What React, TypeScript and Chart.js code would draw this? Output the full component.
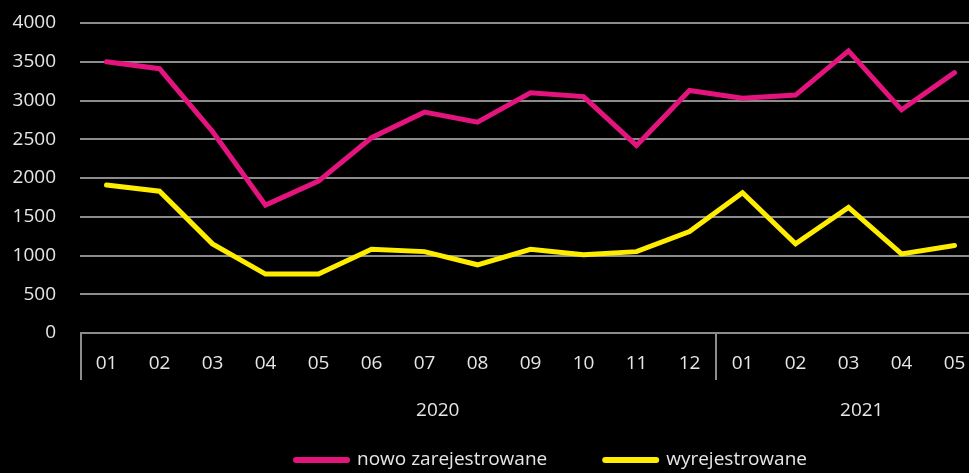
import React, { useEffect, useRef } from "react";
import { Chart, registerables } from "chart.js";

Chart.register(...registerables);

const months = ["01", "02", "03", "04", "05", "06", "07", "08", "09", "10", "11", "12", "01", "02", "03", "04", "05"];
const years = ["2020", "2021"];
const seriesNames = ["nowo zarejestrowane", "wyrejestrowane"];
const nowoZarejestrowane = [3500, 3410, 2600, 1650, 1960, 2520, 2850, 2720, 3100, 3050, 2420, 3130, 3030, 3070, 3640, 2880, 3360];
const wyrejestrowane = [1910, 1830, 1150, 760, 760, 1080, 1050, 880, 1080, 1010, 1050, 1310, 1810, 1150, 1620, 1020, 1130];
const yTicks = [0, 500, 1000, 1500, 2000, 2500, 3000, 3500, 4000];

const PINK = "#e4147e";
const YELLOW = "#ffed00";
const TEXT = "#e6e6e6";
const GRID = "#8c8c8c";
const FONT = "'Open Sans', 'Noto Sans', sans-serif";
const FS = 19;

const extrasPlugin = {
  id: "extras",
  afterDraw(chart: any) {
    const ctx = chart.ctx;
    const x = chart.scales.x;
    const area = chart.chartArea;
    ctx.save();
    ctx.strokeStyle = GRID;
    ctx.lineWidth = 2;
    const seps = [x.getPixelForValue(-0.5) + 1, x.getPixelForValue(11.5)];
    seps.forEach((px: number) => {
      ctx.beginPath();
      ctx.moveTo(px, area.bottom - 1);
      ctx.lineTo(px, area.bottom + 47);
      ctx.stroke();
    });
    ctx.fillStyle = TEXT;
    ctx.font = `${FS}px ${FONT}`;
    ctx.textAlign = "center";
    ctx.textBaseline = "middle";
    const yearIdx = [6.25, 14.25];
    years.forEach((y, i) => {
      ctx.fillText(y, x.getPixelForValue(yearIdx[i]), area.bottom + 78);
    });
    const colors = [PINK, YELLOW];
    const sw = 57, gapText = 7, gapItem = 55;
    const widths = seriesNames.map((n) => ctx.measureText(n).width);
    const total = widths.reduce((a, b) => a + b, 0) + 2 * (sw + gapText) + gapItem;
    let lx = 550 - total / 2;
    const ly = area.bottom + 127;
    ctx.textAlign = "left";
    seriesNames.forEach((n, i) => {
      ctx.strokeStyle = colors[i];
      ctx.lineWidth = 6;
      ctx.lineCap = "round";
      ctx.beginPath();
      ctx.moveTo(lx + 3, ly);
      ctx.lineTo(lx + sw - 3, ly);
      ctx.stroke();
      ctx.fillStyle = TEXT;
      ctx.fillText(n, lx + sw + gapText, ly);
      lx += sw + gapText + widths[i] + gapItem;
    });
    ctx.restore();
  },
};

export default function App() {
  const ref = useRef<HTMLCanvasElement>(null);
  useEffect(() => {
    if (!ref.current) return;
    const ds = (label: string, data: number[], color: string) => ({
      label,
      data,
      borderColor: color,
      backgroundColor: color,
      borderWidth: 5,
      pointRadius: 0,
      borderCapStyle: "round",
      borderJoinStyle: "miter",
      tension: 0,
    });
    const chart = new Chart(ref.current, {
      type: "line",
      data: {
        labels: months,
        datasets: [ds(seriesNames[0], nowoZarejestrowane, PINK), ds(seriesNames[1], wyrejestrowane, YELLOW)],
      },
      options: {
        responsive: false,
        animation: false,
        layout: { padding: { top: 23, left: 0, right: 0, bottom: 0 } },
        plugins: { legend: { display: false }, tooltip: { enabled: false } },
        scales: {
          x: {
            offset: true,
            grid: { display: false },
            border: { display: false },
            ticks: { color: TEXT, font: { family: FONT, size: FS }, padding: 11, maxRotation: 0, autoSkip: false },
            afterFit: (s: any) => {
              s.height = 140;
            },
          },
          y: {
            min: 0,
            max: 4000,
            afterBuildTicks: (s: any) => {
              s.ticks = yTicks.map((v) => ({ value: v }));
            },
            grid: { color: GRID, lineWidth: 2, drawTicks: false },
            border: { display: false },
            ticks: {
              color: TEXT,
              font: { family: FONT, size: FS },
              padding: 24,
              callback: (v: any) => String(v),
            },
            afterFit: (s: any) => {
              s.width = 80;
              s.paddingTop = 0;
              s.paddingBottom = 0;
            },
          },
        },
      },
      plugins: [extrasPlugin],
    } as any);
    return () => chart.destroy();
  }, []);
  return (
    <div style={{ position: "fixed", left: 0, top: 0, width: 969, height: 473, overflow: "hidden", background: "#000" }}>
      <canvas ref={ref} width={981} height={473} style={{ width: 981, height: 473, display: "block" }} />
    </div>
  );
}
